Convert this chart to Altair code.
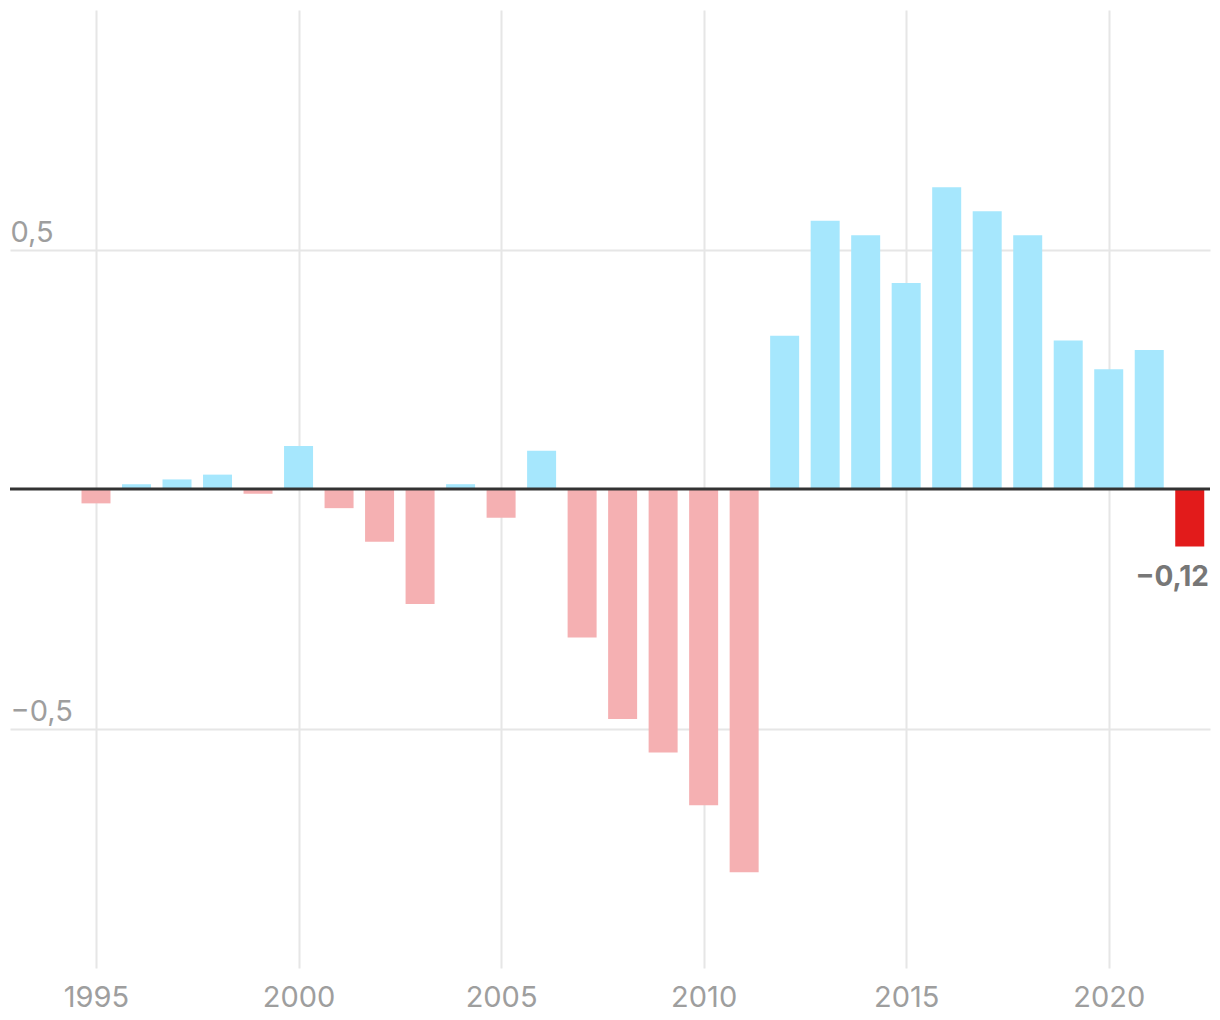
import altair as alt
import pandas as pd

years = list(range(1995, 2023))
values = [-0.03, 0.01, 0.02, 0.03, -0.01, 0.09, -0.04, -0.11, -0.24, 0.01,
          -0.06, 0.08, -0.31, -0.48, -0.55, -0.66, -0.80, 0.32, 0.56, 0.53,
          0.43, 0.63, 0.58, 0.53, 0.31, 0.25, 0.29, -0.12]
highlight_year = 2022
highlight_label = "\u22120,12"

x_ticks = [1995, 2000, 2005, 2010, 2015, 2020]
y_ticks = [-0.5, 0.5]

cats = []
for y, v in zip(years, values):
    if y == highlight_year:
        cats.append("highlight")
    elif v >= 0:
        cats.append("pos")
    else:
        cats.append("neg")

df = pd.DataFrame({"year": years, "value": values, "cat": cats})
ann = pd.DataFrame({"year": [2022.5], "value": [values[-1]], "label": [highlight_label]})
zero = pd.DataFrame({"value": [0]})

FONT = "Inter"

x_scale = alt.Scale(domain=[1992.877, 2022.5], nice=False, zero=False, padding=0)
y_scale = alt.Scale(domain=[-1, 1], nice=False, padding=0)

bars = alt.Chart(df).mark_bar(width=29).encode(
    x=alt.X("year:Q", scale=x_scale, title=None,
            axis=alt.Axis(values=x_ticks, format="d", grid=True, gridColor="#e6e6e6",
                          gridWidth=2, domain=False, ticks=False, labelFont=FONT,
                          labelFontSize=29, labelColor="#9e9e9e", labelPadding=38,
                          labelBaseline="alphabetic", labelFlush=False)),
    y=alt.Y("value:Q", scale=y_scale, title=None,
            axis=alt.Axis(values=y_ticks, grid=True, gridColor="#e6e6e6", gridWidth=2,
                          domain=False, ticks=False, labelFont=FONT, labelFontSize=29,
                          labelColor="#9e9e9e", labelAlign="left", labelPadding=0,
                          labelBaseline="alphabetic", labelOffset=-8,
                          labelExpr="(datum.value < 0 ? '\u2212' : '') + replace(format(abs(datum.value), '.1f'), '.', ',')")),
    color=alt.Color("cat:N", legend=None,
                    scale=alt.Scale(domain=["pos", "neg", "highlight"],
                                    range=["#a6e7fd", "#f5b0b2", "#e21b1b"])),
)

rule = alt.Chart(zero).mark_rule(color="#333333", strokeWidth=3).encode(
    y=alt.Y("value:Q", scale=y_scale)
)

text = alt.Chart(ann).mark_text(align="right", baseline="alphabetic", dy=40, dx=-1,
                                font=FONT, fontSize=28, fontWeight="bold",
                                color="#777777").encode(
    x=alt.X("year:Q", scale=x_scale),
    y=alt.Y("value:Q", scale=y_scale),
    text="label:N",
)

chart = alt.layer(bars, rule, text).properties(
    width=1200, height=958,
    autosize=alt.AutoSizeParams(type="none"),
    padding={"left": 2, "top": 2, "right": 2, "bottom": 50},
    background="white",
).configure_view(stroke=None)

chart.save("out.html", embed_options={"renderer": "svg", "actions": False})
